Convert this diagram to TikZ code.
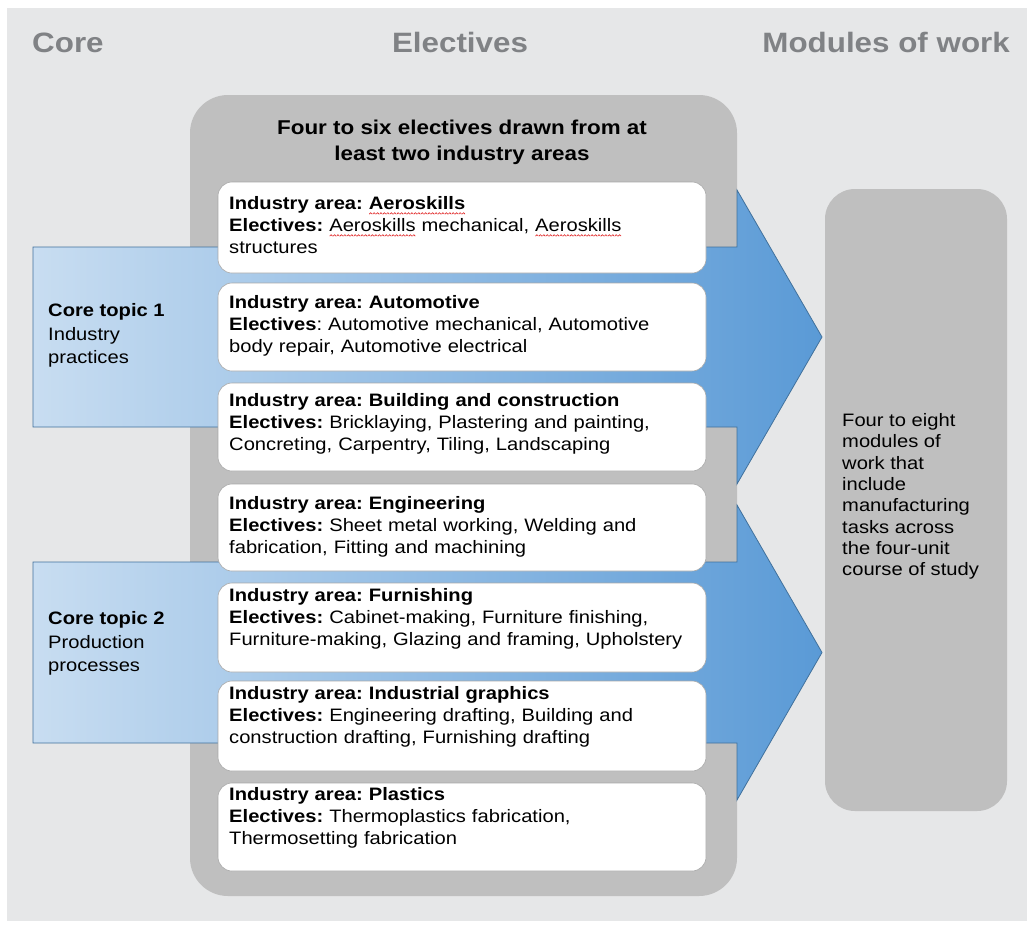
\documentclass[tikz,border=0pt]{standalone}
\usepackage{fontspec}
\setmainfont[FakeStretch=1.12]{Liberation Sans}
\frenchspacing
\definecolor{panel}{HTML}{E6E7E8}
\definecolor{boxgray}{HTML}{BFBFBF}
\definecolor{headgray}{HTML}{808285}
\definecolor{arrowL}{HTML}{C8DDF1}
\definecolor{arrowR}{HTML}{5A9AD6}
\definecolor{arrowline}{HTML}{41719C}
\definecolor{boxline}{HTML}{A8A8A8}
\definecolor{spellred}{HTML}{E02020}
\newsavebox\spellbox
\newcommand\waveunit{\hbox{\tikz[baseline=0pt]\draw[spellred, line width=0.6pt, line join=round] (0pt,0pt) -- (1.4pt,1.5pt) -- (2.8pt,0pt);}}
\newcommand\spellmark[1]{\sbox\spellbox{#1}\rlap{\raisebox{-4.5pt}{\hbox to \wd\spellbox{\xleaders\waveunit\hfill}}}\usebox\spellbox}
\tikzset{
  header/.style={inner sep=0pt, font=\fontsize{28}{30}\selectfont\bfseries, text=headgray},
  cont/.style={fill=boxgray, rounded corners=38pt, inner sep=0pt, outer sep=0pt, anchor=north west},
  wbox/.style={fill=white, draw=boxline, line width=0.6pt, rounded corners=14pt, inner sep=0pt, outer sep=0pt,
    anchor=north west, minimum width=488pt},
  boxtext/.style={anchor=north west, inner sep=0pt, text width=480pt, align=left,
    font=\fontsize{18}{22}\selectfont\frenchspacing},
  coretext/.style={anchor=north west, inner sep=0pt, align=left, font=\fontsize{18}{23.5}\selectfont},
  bigarrow/.style={draw=arrowline, line width=0.8pt, left color=arrowL, right color=arrowR},
}
\begin{document}
\begin{tikzpicture}[x=1pt,y=-1pt]
\useasboundingbox (0,0) rectangle (1027,924);
\fill[white] (0,0) rectangle (1027,924);
\fill[panel] (7,8) rectangle (1027,921);

% headers
\node[header, anchor=base west] (hcore) at (32,52) {Core};
\node[header, anchor=base] (helec) at (460,52) {Electives};
\node[header, anchor=base east] (hmod) at (1010,52) {Modules of work};

% electives container
\node[cont, minimum width=547pt, minimum height=801pt] (cont) at (190,95) {};
\node[anchor=north, inner sep=0pt, align=center, font=\fontsize{20}{26}\selectfont\bfseries] (title) at (462,119.4)
  {Four to six electives drawn from at\\least two industry areas};

% arrows
\path[bigarrow] (33,247) -- (737,247) -- (737,190) -- (822,337) -- (737,484) -- (737,427) -- (33,427) -- cycle;
\path[bigarrow] (33,562) -- (737,562) -- (737,505) -- (822,652.5) -- (737,800) -- (737,743) -- (33,743) -- cycle;

% core topics
\node[coretext] (core1) at (48,303.4) {\textbf{Core topic 1}\\Industry\\practices};
\node[coretext] (core2) at (48,611.4) {\textbf{Core topic 2}\\Production\\processes};

% white boxes
\node[wbox, minimum height=91pt] (b1) at (218,182) {};
\node[wbox, minimum height=88pt] (b2) at (218,283) {};
\node[wbox, minimum height=88pt] (b3) at (218,383) {};
\node[wbox, minimum height=87pt] (b4) at (218,484) {};
\node[wbox, minimum height=89pt] (b5) at (218,583) {};
\node[wbox, minimum height=90pt] (b6) at (218,681) {};
\node[wbox, minimum height=88pt] (b7) at (218,783) {};

\node[boxtext] (t1) at (229,196.4) {\textbf{Industry area: \spellmark{Aeroskills}}\\\textbf{Electives:} \spellmark{Aeroskills} mechanical, \spellmark{Aeroskills}\\structures};
\node[boxtext] (t2) at (229,295.4) {\textbf{Industry area: Automotive}\\\textbf{Electives}: Automotive mechanical, Automotive\\body repair, Automotive electrical};
\node[boxtext] (t3) at (229,393.4) {\textbf{Industry area: Building and construction}\\\textbf{Electives:} Bricklaying, Plastering and painting,\\Concreting, Carpentry, Tiling, Landscaping};
\node[boxtext] (t4) at (229,496.4) {\textbf{Industry area: Engineering}\\\textbf{Electives:} Sheet metal working, Welding and\\fabrication, Fitting and machining};
\node[boxtext] (t5) at (229,588.4) {\textbf{Industry area: Furnishing}\\\textbf{Electives:} Cabinet-making, Furniture finishing,\\Furniture-making, Glazing and framing, Upholstery};
\node[boxtext] (t6) at (229,686.4) {\textbf{Industry area: Industrial graphics}\\\textbf{Electives:} Engineering drafting, Building and\\construction drafting, Furnishing drafting};
\node[boxtext] (t7) at (229,787.4) {\textbf{Industry area: Plastics}\\\textbf{Electives:} Thermoplastics fabrication,\\Thermosetting fabrication};

% modules box
\node[fill=boxgray, rounded corners=30pt, inner sep=0pt, outer sep=0pt, anchor=north west,
  minimum width=182pt, minimum height=622pt] (mod) at (825,189) {};
\node[anchor=north west, inner sep=0pt, align=left, font=\fontsize{18}{21.3}\selectfont] (modtext) at (842,413.4)
  {Four to eight\\modules of\\work that\\include\\manufacturing\\tasks across\\the four-unit\\course of study};
\end{tikzpicture}
\end{document}
